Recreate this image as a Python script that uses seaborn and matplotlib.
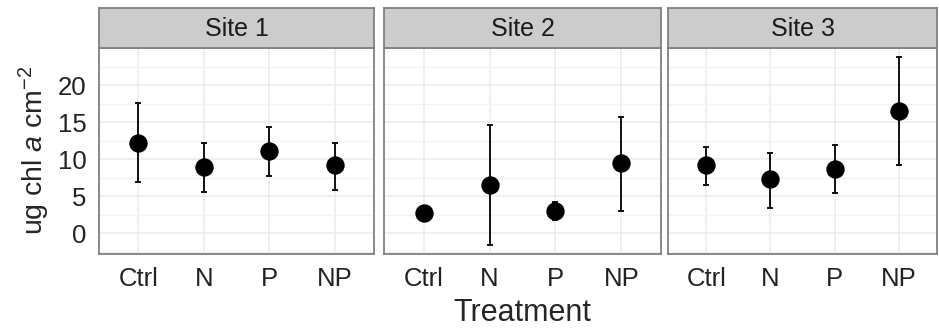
import matplotlib
matplotlib.use('Agg')
from matplotlib import pyplot as plt
import pandas as pd
import seaborn as sns

# values
sites = ['Site 1', 'Site 2', 'Site 3']
treatments = ['Ctrl', 'N', 'P', 'NP']
means = [[12.2, 9.0, 11.1, 9.2],
         [2.7, 6.5, 3.0, 9.5],
         [9.2, 7.3, 8.7, 16.5]]
lower = [[7.0, 5.6, 7.8, 5.9],
         [2.3, -1.6, 1.8, 3.0],
         [6.5, 3.5, 5.4, 9.2]]
upper = [[17.6, 12.2, 14.4, 12.2],
         [3.1, 14.6, 4.3, 15.7],
         [11.7, 10.8, 11.9, 23.8]]

rows = []
for i, s in enumerate(sites):
    for j, t in enumerate(treatments):
        rows.append({'site': s, 'treatment': t, 'mean': means[i][j],
                     'lo': lower[i][j], 'hi': upper[i][j]})
df = pd.DataFrame(rows)

sns.set_style('white')
plt.rcParams['font.family'] = ['Liberation Sans', 'DejaVu Sans']
plt.rcParams['mathtext.fontset'] = 'custom'
plt.rcParams['mathtext.rm'] = 'Liberation Sans'
plt.rcParams['mathtext.it'] = 'Liberation Sans:italic'

fig, axes = plt.subplots(1, 3, figsize=(9.39, 3.29), dpi=100, sharey=True)

W, H = 939.0, 329.0
panel_x = [(99, 374), (384, 661), (668, 937)]
top, bottom = 47.5, 253.5
strip_h = 39.5

for ax, s, (x0, x1) in zip(axes, sites, panel_x):
    ax.set_position([x0 / W, 1 - bottom / H, (x1 - x0) / W, (bottom - top) / H])
    d = df[df['site'] == s]
    ax.errorbar(d['treatment'], d['mean'],
                yerr=[d['mean'] - d['lo'], d['hi'] - d['mean']],
                fmt='none', ecolor='#111111', elinewidth=1.4, capsize=2.3, capthick=1.4, zorder=2)
    sns.scatterplot(data=d, x='treatment', y='mean', ax=ax, color='black',
                    s=175, edgecolor='black', linewidth=0, zorder=3)
    ax.set_xlim(-0.6, 3.6)
    ax.set_ylim(-2.7, 25.1)
    ax.set_yticks([0, 5, 10, 15, 20])
    ax.set_yticks([-2.5, 2.5, 7.5, 12.5, 17.5, 22.5], minor=True)
    ax.grid(True, which='major', color='#EBEBEB', linewidth=1.1)
    ax.grid(True, which='minor', axis='y', color='#F2F2F2', linewidth=0.9)
    ax.set_axisbelow(True)
    for sp in ax.spines.values():
        sp.set_color('#808080')
        sp.set_linewidth(1.3)
    ax.tick_params(axis='both', which='major', direction='out', length=5, width=1.2,
                   color='#333333', labelcolor='#222222', labelsize=18.5)
    ax.tick_params(axis='x', pad=5)
    ax.tick_params(axis='y', pad=4)
    ax.tick_params(axis='y', which='minor', length=0)
    ax.set_xlabel('')
    ax.set_ylabel('')
    # facet strip
    strip = ax.inset_axes([0, 1, 1, strip_h / (bottom - top)])
    strip.set_facecolor('#CCCCCC')
    strip.set_xticks([])
    strip.set_yticks([])
    for sp in strip.spines.values():
        sp.set_color('#808080')
        sp.set_linewidth(1.3)
    strip.text(0.5, 0.47, s, ha='center', va='center', fontsize=18, color='#1A1A1A')

axes[0].set_ylabel(r'ug chl $\mathit{a}$ cm$^{-2}$', fontsize=20.5, labelpad=4)
for ax in axes[1:]:
    ax.tick_params(axis='y', which='both', length=0, labelleft=False)
axes[1].set_xlabel('Treatment', fontsize=22, labelpad=5)

fig.savefig('out.png', dpi=100)
